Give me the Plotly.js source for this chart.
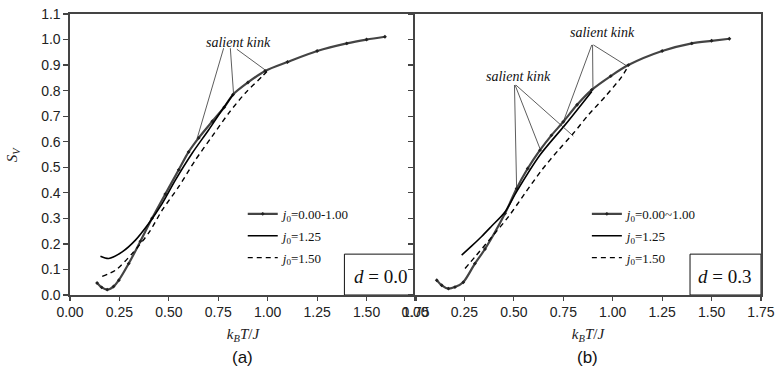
<!DOCTYPE html>
<html>
<head>
<meta charset="utf-8">
<script src="https://cdn.plot.ly/plotly-3.0.1.min.js"></script>
<style>html,body{margin:0;padding:0;background:#fff;}</style>
</head>
<body>
<div id="chart" style="width:776px;height:376px;"></div>
<script>
// ---- Panel (a): d = 0.0 ----
const aX_j0low = [0.137, 0.16, 0.188, 0.22, 0.247, 0.297, 0.356, 0.415, 0.482, 0.55, 0.60, 0.651, 0.72, 0.78, 0.825, 0.90, 0.987, 1.10, 1.25, 1.40, 1.50, 1.593];
const aY_j0low = [0.047, 0.03, 0.021, 0.033, 0.058, 0.123, 0.21, 0.30, 0.395, 0.49, 0.56, 0.615, 0.68, 0.735, 0.785, 0.832, 0.877, 0.912, 0.955, 0.985, 1.0, 1.011];
const aX_j125 = [0.154, 0.196, 0.264, 0.331, 0.398, 0.466, 0.533, 0.617, 0.701, 0.769, 0.825];
const aY_j125 = [0.152, 0.143, 0.169, 0.215, 0.28, 0.358, 0.45, 0.554, 0.646, 0.724, 0.785];
const aX_j150 = [0.163, 0.23, 0.314, 0.40, 0.466, 0.55, 0.634, 0.718, 0.802, 0.886, 0.971, 0.996];
const aY_j150 = [0.073, 0.097, 0.162, 0.245, 0.332, 0.424, 0.528, 0.62, 0.711, 0.79, 0.855, 0.875];

// ---- Panel (b): d = 0.3 ----
const bX_j0low = [0.11, 0.135, 0.169, 0.202, 0.244, 0.303, 0.354, 0.455, 0.514, 0.57, 0.632, 0.69, 0.75, 0.82, 0.894, 0.99, 1.079, 1.25, 1.40, 1.50, 1.59];
const bY_j0low = [0.058, 0.038, 0.025, 0.031, 0.05, 0.123, 0.18, 0.319, 0.417, 0.495, 0.567, 0.625, 0.678, 0.745, 0.803, 0.857, 0.90, 0.955, 0.985, 0.995, 1.003];
const bX_j125 = [0.236, 0.287, 0.337, 0.388, 0.455, 0.514, 0.632, 0.759, 0.894];
const bY_j125 = [0.156, 0.192, 0.229, 0.27, 0.325, 0.405, 0.548, 0.666, 0.797];
const bX_j150 = [0.253, 0.303, 0.388, 0.472, 0.556, 0.641, 0.725, 0.801, 0.877, 0.961, 1.046, 1.079];
const bY_j150 = [0.104, 0.149, 0.227, 0.306, 0.398, 0.489, 0.567, 0.633, 0.705, 0.776, 0.855, 0.897];

const legendA = ["<i>j</i><sub>0</sub>=0.00-1.00", "<i>j</i><sub>0</sub>=1.25", "<i>j</i><sub>0</sub>=1.50"];
const legendB = ["<i>j</i><sub>0</sub>=0.00~1.00", "<i>j</i><sub>0</sub>=1.25", "<i>j</i><sub>0</sub>=1.50"];
const xTicks = [0, 0.25, 0.5, 0.75, 1.0, 1.25, 1.5, 1.75];
const yTicks = [0, 0.1, 0.2, 0.3, 0.4, 0.5, 0.6, 0.7, 0.8, 0.9, 1.0, 1.1];

// kink pointer lines: [fromX, fromY, toX, toY]
const kinksA = [[0.777, 0.966, 0.642, 0.61], [0.811, 0.966, 0.827, 0.79], [0.844, 0.962, 0.987, 0.881]];
const kinksBUpper = [[0.894, 0.979, 0.75, 0.678], [0.898, 0.979, 0.9, 0.806], [0.902, 0.979, 1.071, 0.897]];
const kinksBLower = [[0.503, 0.822, 0.514, 0.417], [0.506, 0.822, 0.632, 0.573], [0.51, 0.822, 0.801, 0.622]];

const lowStyle = {
  mode: 'lines+markers',
  line: {color: '#444', width: 2.2, shape: 'spline', smoothing: 0.8},
  marker: {symbol: 'diamond', size: 3, color: '#222'}
};
const solidStyle = {mode: 'lines', line: {color: '#000', width: 1.6, shape: 'spline', smoothing: 0.8}};
const dashStyle = {mode: 'lines', line: {color: '#000', width: 1.4, dash: '5px,4px', shape: 'spline', smoothing: 0.8}};

function mk(style, x, y, name, xa, ya, leg, grp) {
  return Object.assign({}, style, {x: x, y: y, name: name, xaxis: xa, yaxis: ya, legend: leg, legendgroup: grp, type: 'scatter'});
}

const traces = [
  mk(lowStyle, aX_j0low, aY_j0low, legendA[0], 'x', 'y', 'legend', 'a1'),
  mk(solidStyle, aX_j125, aY_j125, legendA[1], 'x', 'y', 'legend', 'a2'),
  mk(dashStyle, aX_j150, aY_j150, legendA[2], 'x', 'y', 'legend', 'a3'),
  mk(lowStyle, bX_j0low, bY_j0low, legendB[0], 'x2', 'y2', 'legend2', 'b1'),
  mk(solidStyle, bX_j125, bY_j125, legendB[1], 'x2', 'y2', 'legend2', 'b2'),
  mk(dashStyle, bX_j150, bY_j150, legendB[2], 'x2', 'y2', 'legend2', 'b3')
];

const tickFont = {family: 'Liberation Sans, Arial, sans-serif', size: 14, color: '#222'};
const serif = 'Liberation Serif, Times New Roman, serif';

function xAxis(domain, anchor) {
  return {
    domain: domain, anchor: anchor, range: [0, 1.75], tickvals: xTicks, tickformat: '.2f',
    ticks: 'outside', ticklen: 4, tickwidth: 1.2, tickcolor: '#444',
    showline: true, linecolor: '#444', linewidth: 1.6, mirror: true,
    showgrid: false, zeroline: false, tickfont: tickFont,
    title: {text: '<i>k</i><sub><i>B</i></sub><i>T</i>/<i>J</i>', font: {family: serif, size: 15, color: '#222'}, standoff: 9}
  };
}
function yAxis(anchor, labels) {
  return {
    anchor: anchor, range: [0, 1.1], tickvals: yTicks, tickformat: '.1f',
    ticks: 'outside', ticklen: 5, tickwidth: 1.2, tickcolor: '#444',
    showline: true, linecolor: '#444', linewidth: 1.6, mirror: true,
    showgrid: false, zeroline: false, tickfont: tickFont, showticklabels: labels
  };
}

const shapes = [
  {type: 'rect', xref: 'x', yref: 'y', x0: 1.388, x1: 1.75, y0: 0, y1: 0.16, line: {color: '#111', width: 1}, fillcolor: '#fff', layer: 'below'},
  {type: 'rect', xref: 'x2', yref: 'y2', x0: 1.391, x1: 1.75, y0: 0, y1: 0.16, line: {color: '#111', width: 1}, fillcolor: '#fff', layer: 'below'}
];
function addLines(list, xr, yr) {
  list.forEach(k => shapes.push({type: 'line', xref: xr, yref: yr, x0: k[0], y0: k[1], x1: k[2], y1: k[3], line: {color: '#333', width: 0.8}}));
}
addLines(kinksA, 'x', 'y');
addLines(kinksBUpper, 'x2', 'y2');
addLines(kinksBLower, 'x2', 'y2');

const annotations = [];
const kinkFont = {family: serif, size: 14, color: '#111'};
annotations.push({xref: 'x', yref: 'y', x: 0.851, y: 0.987, text: '<i>salient kink</i>', showarrow: false, font: kinkFont});
annotations.push({xref: 'x2', yref: 'y2', x: 0.946, y: 1.026, text: '<i>salient kink</i>', showarrow: false, font: kinkFont});
annotations.push({xref: 'x2', yref: 'y2', x: 0.521, y: 0.857, text: '<i>salient kink</i>', showarrow: false, font: kinkFont});
const dFont = {family: serif, size: 19, color: '#111'};
annotations.push({xref: 'x', yref: 'y', x: 1.568, y: 0.073, text: '<i>d</i> = 0.0', showarrow: false, font: dFont});
annotations.push({xref: 'x2', yref: 'y2', x: 1.565, y: 0.073, text: '<i>d</i> = 0.3', showarrow: false, font: dFont});
const panelFont = {family: 'Liberation Sans, Arial, sans-serif', size: 17, color: '#111'};
annotations.push({xref: 'paper', yref: 'paper', x: 0.25, y: -0.224, xanchor: 'center', yanchor: 'middle', text: '(a)', showarrow: false, font: panelFont});
annotations.push({xref: 'paper', yref: 'paper', x: 0.749, y: -0.224, xanchor: 'center', yanchor: 'middle', text: '(b)', showarrow: false, font: panelFont});
annotations.push({xref: 'paper', yref: 'paper', x: -0.083, y: 0.5, xanchor: 'center', yanchor: 'middle', text: '<i>S</i><sub><i>V</i></sub>', textangle: -90, showarrow: false, font: {family: serif, size: 15, color: '#222'}});

const legendFont = {family: serif, size: 13, color: '#111'};
const layout = {
  width: 776, height: 376,
  margin: {l: 70, r: 15, t: 14, b: 81},
  paper_bgcolor: '#fff', plot_bgcolor: '#fff',
  xaxis: xAxis([0, 0.5007], 'y'),
  yaxis: yAxis('x', true),
  xaxis2: xAxis([0.4993, 1], 'y2'),
  yaxis2: yAxis('x2', false),
  showlegend: true,
  legend: {x: 0.25, y: 0.342, xanchor: 'left', yanchor: 'top', bgcolor: 'rgba(0,0,0,0)', font: legendFont, tracegroupgap: 2, itemwidth: 30},
  legend2: {x: 0.748, y: 0.342, xanchor: 'left', yanchor: 'top', bgcolor: 'rgba(0,0,0,0)', font: legendFont, tracegroupgap: 2, itemwidth: 30},
  shapes: shapes,
  annotations: annotations
};

Plotly.newPlot('chart', traces, layout, {displayModeBar: false, staticPlot: true});
</script>
</body>
</html>
